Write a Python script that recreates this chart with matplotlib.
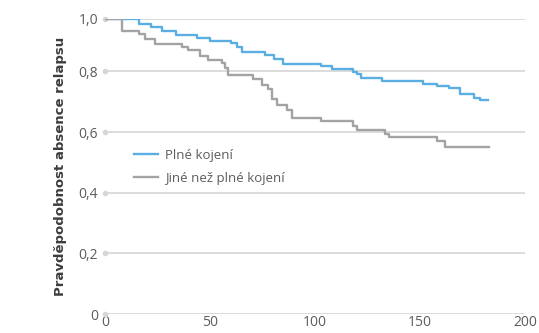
import matplotlib

matplotlib.use("Agg")
import matplotlib.pyplot as plt
import numpy as np

# Kaplan-Meier style step curves (days vs. probability)
full_t = [0, 16, 22, 27, 34, 44, 50, 60, 63, 65, 76, 80.5, 84.5, 103, 108, 118,
          120, 122, 132, 151.5, 158, 164, 169, 175.5, 178.5, 182.5]
full_p = [1.0, 0.981, 0.968, 0.955, 0.94, 0.927, 0.916, 0.907, 0.892, 0.876,
          0.862, 0.846, 0.83, 0.819, 0.81, 0.797, 0.79, 0.777, 0.769, 0.759,
          0.752, 0.745, 0.725, 0.712, 0.706, 0.706]

other_t = [0, 8, 16, 19, 24, 36.5, 39.7, 45, 49, 55.5, 57, 58.7, 70.6, 74.6,
           77.8, 79.4, 81.7, 86.5, 89, 103, 118.2, 120, 133.3, 135, 158, 162, 183]
other_p = [1.0, 0.955, 0.943, 0.924, 0.905, 0.893, 0.88, 0.86, 0.845, 0.832,
           0.813, 0.789, 0.775, 0.756, 0.741, 0.709, 0.69, 0.673, 0.646, 0.635,
           0.621, 0.607, 0.594, 0.583, 0.569, 0.552, 0.552]

labels = ["Plné kojení", "Jiné než plné kojení"]
colors = ["#5aaee2", "#a3a3a5"]

y_ticks = [0, 0.2, 0.4, 0.6, 0.8, 1.0]
y_tick_labels = ["0", "0,2", "0,4", "0,6", "0,8", "1,0"]
x_ticks = [0, 50, 100, 150, 200]

TEXT = "#5c5c5c"
GRID = "#d6d6d6"

# the original squeezes the 0,8-1,0 band a bit
SQ = 0.865


def fwd(v):
    v = np.asarray(v, dtype=float)
    return np.where(v <= 0.8, v, 0.8 + (v - 0.8) * SQ)


def inv(v):
    v = np.asarray(v, dtype=float)
    return np.where(v <= 0.8, v, 0.8 + (v - 0.8) / SQ)


plt.rcParams["font.family"] = ["Open Sans", "DejaVu Sans"]

fig = plt.figure(figsize=(5.39, 3.33), dpi=100)
ax = fig.add_axes([0.195, 0.057, 0.779, 0.886])
ax.set_yscale("function", functions=(fwd, inv))

for v in y_ticks:
    ax.axhline(v, color=GRID, lw=1.2, zorder=1)
ax.plot(np.zeros(len(y_ticks)), y_ticks, "o", ms=3, color=GRID,
        clip_on=False, zorder=2)

ax.plot(full_t, full_p, drawstyle="steps-post", color=colors[0], lw=1.7,
        label=labels[0], zorder=3)
ax.plot(other_t, other_p, drawstyle="steps-post", color=colors[1], lw=1.7,
        label=labels[1], zorder=3)

ax.set_xlim(0, 200)
ax.set_ylim(0, 1.0)
ax.set_yticks(y_ticks)
ax.set_yticklabels(y_tick_labels)
ax.set_xticks(x_ticks)
ax.yaxis.set_minor_locator(matplotlib.ticker.NullLocator())
ax.tick_params(length=0, labelsize=10, colors=TEXT)
ax.tick_params(axis="y", pad=5)
ax.tick_params(axis="x", pad=1)
for s in ax.spines.values():
    s.set_visible(False)

ax.set_ylabel("Pravděpodobnost absence relapsu", fontsize=9.5,
              fontweight="bold", color="#3c3c3c", labelpad=8,
              family="DejaVu Sans")

ax.legend(loc="upper left", bbox_to_anchor=(0.04, 0.60), frameon=False,
          fontsize=9.5, labelcolor=TEXT, handlelength=1.8, handletextpad=0.6,
          labelspacing=0.75)

fig.savefig("out.png", dpi=100)
